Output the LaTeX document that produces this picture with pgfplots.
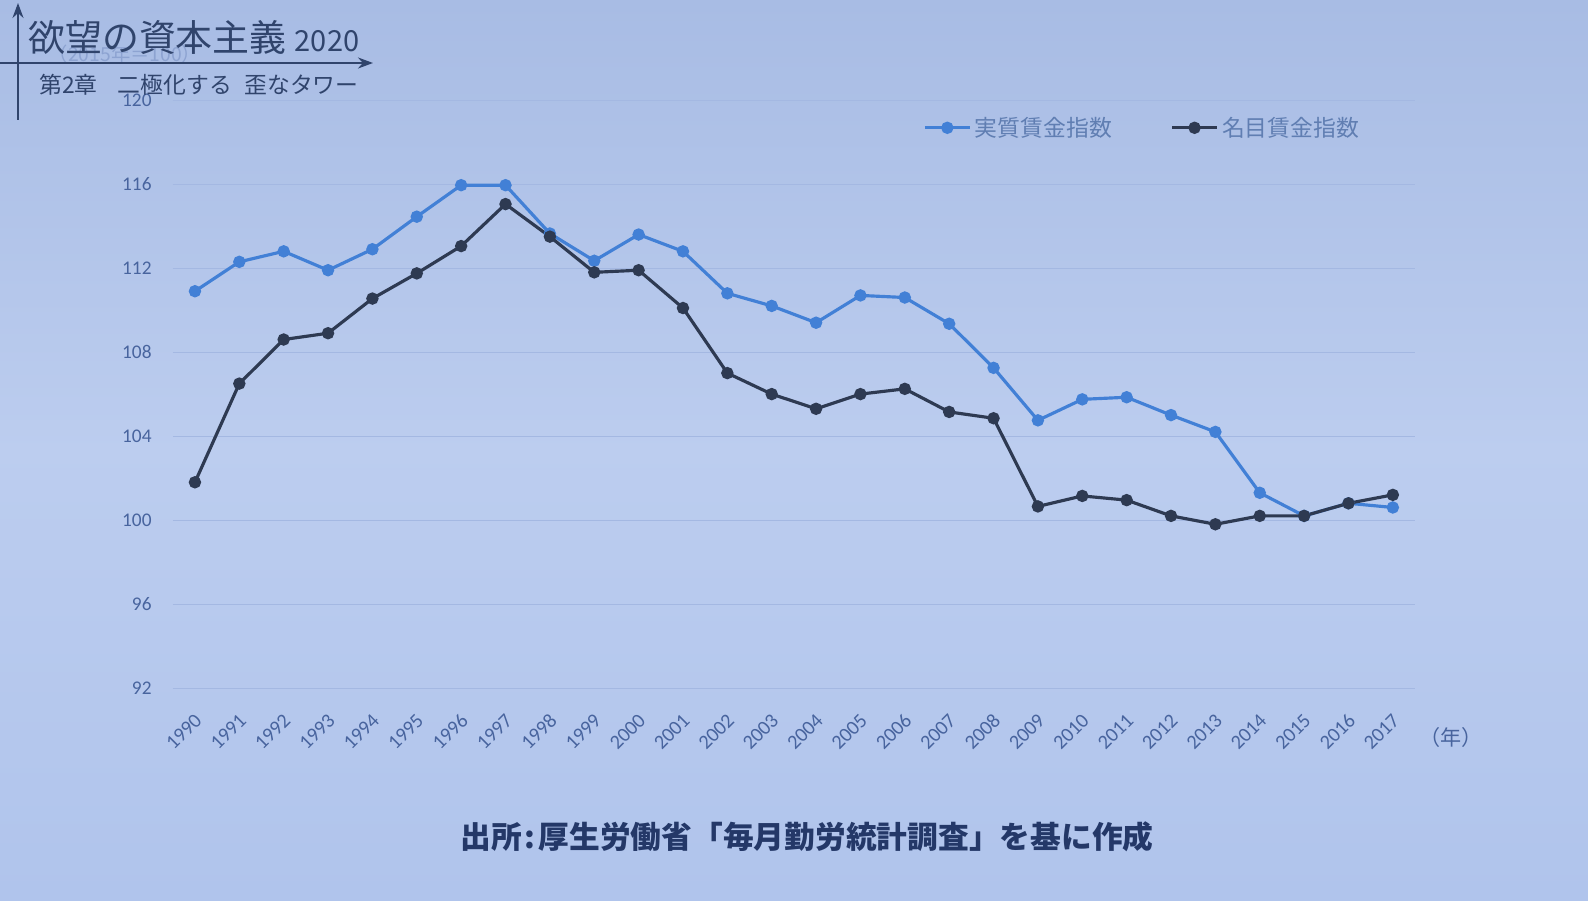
\documentclass[border=0pt]{standalone}
\usepackage{fontspec}
\setmainfont{Carlito}
\newfontfamily\jp{Noto Sans CJK JP}
\usepackage{pgfplots}
\pgfplotsset{compat=1.18}
\usetikzlibrary{arrows.meta}

\definecolor{bg}{RGB}{176,196,236}
\definecolor{bgtop}{RGB}{168,188,228}
\definecolor{gridc}{RGB}{164,184,226}
\definecolor{realc}{RGB}{66,128,214}
\definecolor{nomc}{RGB}{46,58,82}
\definecolor{tickc}{RGB}{72,100,158}
\definecolor{legc}{RGB}{96,126,178}
\definecolor{titlec}{RGB}{48,68,108}
\definecolor{srcc}{RGB}{36,56,104}

\begin{document}
\begin{tikzpicture}[x=0.02cm,y=0.02cm]
\path[use as bounding box] (0,0) rectangle (1588,900);
\shade[top color=bgtop, bottom color=bg, middle color=bg!85!white] (0,0) rectangle (1588,900);

\begin{axis}[
  at={(3.456cm,4.24cm)}, anchor=south west,
  width=24.85cm, height=11.76cm, scale only axis,
  xmin=1989.5, xmax=2017.5, ymin=92, ymax=120,
  xtick={1990,...,2017}, ytick={92,96,...,120},
  axis line style={draw=none}, major tick style={draw=none},
  ymajorgrids, grid style={gridc, line width=0.5pt},
  /pgf/number format/assume math mode=true,
  /pgf/number format/1000 sep={},
  xticklabel style={rotate=45, anchor=east, font=\fontsize{11.5pt}{11.5pt}\selectfont, text=tickc, yshift=-0.46cm, xshift=-0.24cm},
  yticklabel style={font=\fontsize{11pt}{11pt}\selectfont, text=tickc, xshift=-0.3cm},
  legend style={at={(0.781,0.953)}, anchor=center, draw=none, fill=none,
    legend columns=2, font=\jp\fontsize{13pt}{13pt}\selectfont, text=legc,
    /tikz/every even column/.append style={column sep=1.1cm}},
  legend image code/.code={\draw[mark repeat=2, mark phase=2, #1] plot coordinates {(0cm,0cm) (0.45cm,0cm) (0.9cm,0cm)};},
  clip=false,
]
\addplot[realc, line width=1.8pt, mark=*, mark size=2.6pt, mark options={fill=realc, draw=realc}] coordinates {
(1990,110.9) (1991,112.3) (1992,112.8) (1993,111.9) (1994,112.9) (1995,114.45)
(1996,115.95) (1997,115.95) (1998,113.65) (1999,112.35) (2000,113.6) (2001,112.8)
(2002,110.8) (2003,110.2) (2004,109.4) (2005,110.7) (2006,110.6) (2007,109.35)
(2008,107.25) (2009,104.75) (2010,105.75) (2011,105.85) (2012,105.0) (2013,104.2)
(2014,101.3) (2015,100.2) (2016,100.8) (2017,100.6)
};
\addlegendentry{実質賃金指数}
\addplot[nomc, line width=1.8pt, mark=*, mark size=2.6pt, mark options={fill=nomc, draw=nomc}] coordinates {
(1990,101.8) (1991,106.5) (1992,108.6) (1993,108.9) (1994,110.55) (1995,111.75)
(1996,113.05) (1997,115.05) (1998,113.5) (1999,111.8) (2000,111.9) (2001,110.1)
(2002,107.0) (2003,106.0) (2004,105.3) (2005,106.0) (2006,106.25) (2007,105.15)
(2008,104.85) (2009,100.65) (2010,101.15) (2011,100.95) (2012,100.2) (2013,99.8)
(2014,100.2) (2015,100.2) (2016,100.8) (2017,101.2)
};
\addlegendentry{名目賃金指数}
\end{axis}

% unit labels
\node[text=gridc!75!tickc, font=\jp\fontsize{11pt}{11pt}\selectfont] at (125,846) {（2015年＝100）};
\node[text=tickc, font=\jp\fontsize{12pt}{12pt}\selectfont] at (1451,163) {（年）};

% title decoration
\draw[titlec, line width=0.04cm, -{Stealth[length=0.3cm,width=0.22cm]}] (18,780) -- (18,897);
\draw[titlec, line width=0.04cm, -{Stealth[length=0.3cm,width=0.22cm]}] (0,837) -- (373,837);
\node[anchor=base west, inner sep=0pt, text=titlec, font=\jp\fontsize{21pt}{21pt}\selectfont] at (28,848) {欲望の資本主義 {\fontsize{16.5pt}{16.5pt}\selectfont 2020}};
\node[anchor=base west, inner sep=0pt, text=titlec, font=\jp\fontsize{13pt}{13pt}\selectfont] at (39,806) {第2章\hspace{0.4cm}二極化する\hspace{0.25cm}歪なタワー};

% source
\node[text=srcc, font=\jp\bfseries\fontsize{17.5pt}{17.5pt}\selectfont] at (807,63) {出所\kern0.1em:\kern0.1em 厚生労働省「毎月勤労統計調査」を基に作成};
\end{tikzpicture}
\end{document}
